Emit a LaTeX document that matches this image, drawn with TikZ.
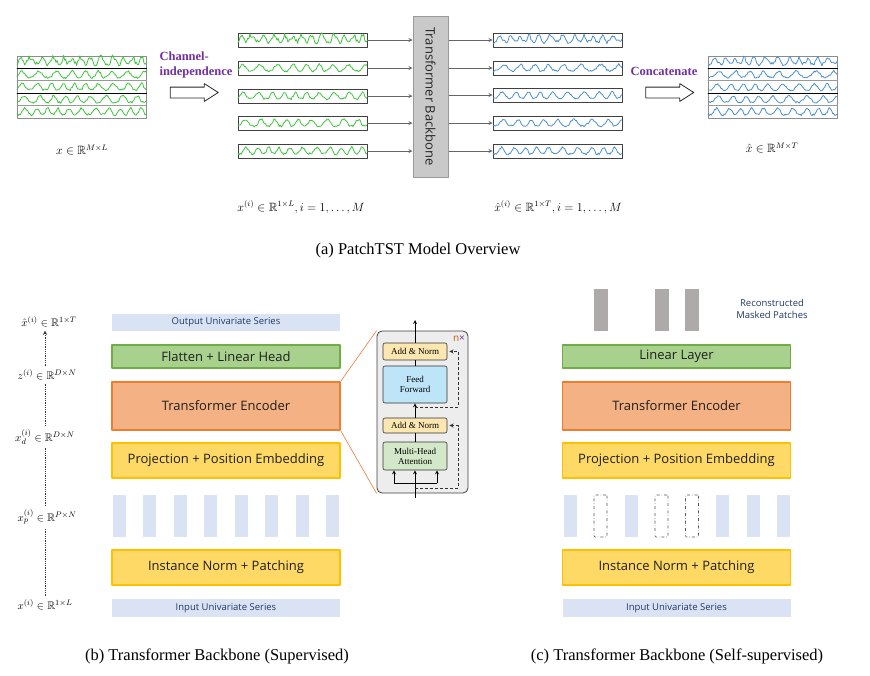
\documentclass[tikz,border=0pt]{standalone}
\usepackage{amssymb}
\usepackage{fontspec}
\setsansfont{Open Sans}
\newfontfamily\capfont{Liberation Serif}
\usetikzlibrary{positioning,shapes.arrows,calc}
\definecolor{patchblue}{HTML}{DAE3F3}
\definecolor{headgreen}{HTML}{A9D18E}
\definecolor{headgreenline}{HTML}{70AD47}
\definecolor{encorange}{HTML}{F4B183}
\definecolor{encorangeline}{HTML}{ED7D31}
\definecolor{embyellow}{HTML}{FFD966}
\definecolor{embyellowline}{HTML}{FFC000}
\definecolor{maskgray}{HTML}{AEAAAA}
\definecolor{navytext}{HTML}{1F3864}
\definecolor{chpurple}{HTML}{7030A0}
\definecolor{nxorange}{HTML}{C55A11}
\definecolor{wavegreen}{HTML}{3CC43C}
\definecolor{waveblue}{HTML}{4A8FCB}
\definecolor{bbgray}{HTML}{C9C9C9}
\definecolor{addnorm}{HTML}{FDE7B0}
\definecolor{ffblue}{HTML}{BEE4F7}
\definecolor{mhagreen}{HTML}{D3E8C8}
\definecolor{tlgray}{HTML}{EDEDED}

% waveform: x1, x2, y, colour, frequency, noise, seed
\newcommand{\wave}[7]{%
  \pgfmathsetseed{#7}%
  \draw[#4,line width=0.8pt] plot[domain=#1:#2,samples=120]
    (\x,{#3+4-6.5*((abs(sin(#5*(\x-#1)+35*sin(0.31*#5*(\x-#1)+#7*40))))^3)-#6*rnd});}

\tikzset{
  serbox/.style={draw=black!75,line width=0.9pt,minimum width=129pt,minimum height=14pt,inner sep=0pt},
  matbox/.style={draw=black!45,line width=1pt,minimum width=129pt,minimum height=62pt,inner sep=0pt},
  conn/.style={draw=black!60,line width=0.8pt,-stealth},
  hollow/.style={single arrow,draw=black!85,fill=white,line width=0.8pt,minimum height=48pt,
    minimum width=0pt,inner sep=5pt,single arrow head extend=3.5pt,single arrow tip angle=65},
  chtext/.style={text=chpurple,font=\capfont\bfseries\fontsize{12.5}{14.5}\selectfont},
  mlab/.style={font=\fontsize{12}{14}\selectfont},
  alab/.style={font=\fontsize{11}{13}\selectfont},
  caption/.style={font=\capfont\fontsize{16.5}{19}\selectfont},
  blk/.style={minimum width=228pt,inner sep=0pt,line width=1.3pt,text=black!88,font=\sffamily\fontsize{13}{15}\selectfont},
  lbox/.style={fill=patchblue,minimum width=228pt,minimum height=17pt,inner sep=0pt,text=navytext,font=\sffamily\fontsize{9.5}{11}\selectfont},
  patch/.style={fill=patchblue,minimum width=13pt,minimum height=42pt,inner sep=0pt},
  masked/.style={draw=black!65,dash dot,line width=0.7pt,rounded corners=1pt,minimum width=13pt,minimum height=42pt,inner sep=0pt},
  recon/.style={fill=maskgray,minimum width=14pt,minimum height=42pt,inner sep=0pt},
  tlbox/.style={draw=black!75,fill=tlgray,rounded corners=5pt,line width=0.8pt,minimum width=91pt,minimum height=162pt},
  sub/.style={draw=black!80,line width=0.6pt,rounded corners=2pt,minimum width=64pt,inner sep=0pt,align=center,
    font=\capfont\fontsize{9}{10}\selectfont},
  res/.style={draw=black!80,line width=0.9pt,dash pattern=on 3pt off 2pt,-stealth,shorten >=2pt},
  axis/.style={draw=black!80,line width=0.9pt,dash pattern=on 0.8pt off 1pt}
}

\begin{document}
\begin{tikzpicture}[x=1pt,y=-1pt,line join=round,>=stealth,font=\sffamily]
\useasboundingbox (0,0) rectangle (870,675);

%% (a) PatchTST overview
\node[matbox] (mx) at (81.5,87) {};
\foreach \f/\n [count=\i] in {18/5,12/2,14/2,13/2,15/2.2}
  \wave{17}{146}{49.8+12.4*\i}{wavegreen}{\f}{\n}{\i}
\foreach \y/\c in {68.4/black,80.8/black!40,93.2/black,105.6/black!40}
  \draw[\c,line width=0.9pt] (mx.west |- 0,\y) -- (mx.east |- 0,\y);
\node[mlab] (mxl) at (82,150) {$x\in\mathbb{R}^{M\times L}$};

\node[chtext,align=left,anchor=west] (chl) at (156,65) {Channel-\\independence};
\node[hollow] (cia) at (190,92.5) {};

\node[draw=black!40,fill=bbgray,line width=1pt,minimum width=35pt,minimum height=161pt,inner sep=0pt] (bb) at (430.5,96.5) {};
\node[rotate=-90,font=\sffamily\fontsize{13}{15}\selectfont,text=black!85] (bbl) at (bb) {Transformer Backbone};

\foreach \y/\f/\n [count=\i] in {40/18/5,68/12/2,96/14/2,123/13/2,151/15/2.2}{
  \node[serbox] (in\i) at (302.5,\y) {};
  \wave{238}{367}{\y}{wavegreen}{\f}{\n}{\i}
  \draw[conn] (in\i.east) -- (in\i.east -| bb.west);
}
\foreach \y/\f/\n [count=\i] in {40/17/4,68/11/2,95/13/1.5,123/12/2,151/14/2}{
  \node[serbox] (out\i) at (557.5,\y) {};
  \wave{493}{622}{\y}{waveblue}{\f}{\n}{\i+5}
  \draw[conn] (out\i.west -| bb.east) -- (out\i.west);
}
\node[mlab] (inl) at (301,207) {$x^{(i)}\in\mathbb{R}^{1\times L}, i=1,\ldots,M$};
\node[mlab] (outl) at (558,207) {$\hat{x}^{(i)}\in\mathbb{R}^{1\times T}, i=1,\ldots,M$};

\node[chtext] (ccl) at (664,71) {Concatenate};
\node[hollow] (cca) at (665.5,92.5) {};

\node[matbox] (mxo) at (772.5,87) {};
\foreach \f/\n [count=\i] in {17/4,11/2,13/1.5,12/2,14/2}
  \wave{708}{837}{49.8+12.4*\i}{waveblue}{\f}{\n}{\i+5}
\foreach \y/\c in {68.4/black,80.8/black!40,93.2/black,105.6/black!40}
  \draw[\c,line width=0.9pt] (mxo.west |- 0,\y) -- (mxo.east |- 0,\y);
\node[mlab] (mxol) at (772,148) {$\hat{x}\in\mathbb{R}^{M\times T}$};

\node[caption] (capa) at (418,251) {(a) PatchTST Model Overview};

%% (b) supervised backbone
\node[lbox] (outs) at (226,322.5) {Output Univariate Series};
\node[blk,fill=headgreen,draw=headgreenline,minimum height=23pt] (head) at (226,356.5) {Flatten + Linear Head};
\node[blk,fill=encorange,draw=encorangeline,minimum height=48pt] (enc) at (226,406) {Transformer Encoder};
\node[blk,fill=embyellow,draw=embyellowline,minimum height=35pt] (proj) at (226,460.5) {Projection + Position Embedding};
\foreach \k in {0,...,7}
  \node[patch] (pb\k) at (119.5+30.43*\k,516) {};
\node[blk,fill=embyellow,draw=embyellowline,minimum height=35pt] (norm) at (226,567.5) {Instance Norm + Patching};
\node[lbox,minimum height=18pt] (ins) at (226,608) {Input Univariate Series};

% encoder layer detail
\node[tlbox] (tl) at (422.5,412) {};
\node[sub,fill=addnorm,minimum height=17pt] (an2) at (415,351.5) {Add \& Norm};
\node[sub,fill=ffblue,minimum height=37pt] (ff) at (415,384.5) {Feed\\Forward};
\node[sub,fill=addnorm,minimum height=15pt] (an1) at (415,425.5) {Add \& Norm};
\node[sub,fill=mhagreen,minimum height=28pt] (mha) at (415,456) {Multi-Head\\Attention};
\node[font=\sffamily\fontsize{10}{12}\selectfont] (nx) at (459,339) {\textcolor{nxorange}{n}\textcolor{chpurple}{×}};
\coordinate (tin) at (415,498);
\coordinate (tout) at (415,320);
\coordinate (br) at (415,483);
\coordinate (brl) at (394,483);
\coordinate (brr) at (437,483);
\draw[line width=0.8pt] (tin) -- (br) (brl) -- (brr) (mha) -- (an1) (ff) -- (an2);
\draw[line width=0.8pt,-stealth] (br) -- (mha.south);
\draw[line width=0.8pt,-stealth] (brl) -- (brl |- mha.south);
\draw[line width=0.8pt,-stealth] (brr) -- (brr |- mha.south);
\draw[line width=0.8pt,-stealth] (an1) -- (ff);
\draw[line width=0.8pt,-stealth] (an2) -- (tout);
\coordinate (r1) at (415,488);
\coordinate (r2) at (415,407);
\draw[res] (r1) -| ($(an1.east)+(11,0)$) -- (an1.east);
\draw[res] (r2) -| ($(an2.east)+(11,0)$) -- (an2.east);
\draw[encorangeline,line width=0.6pt] (enc.north east) -- (tl.north west);
\draw[encorangeline,line width=0.6pt] (enc.south east) -- (tl.south west);

% shapes along the backbone
\coordinate (ax) at (45,0);
\node[alab] (l5) at (49,322) {$\hat{x}^{(i)}\in\mathbb{R}^{1\times T}$};
\node[alab] (l4) at (47,375) {$z^{(i)}\in\mathbb{R}^{D\times N}$};
\node[alab] (l3) at (45,437) {$x_d^{(i)}\in\mathbb{R}^{D\times N}$};
\node[alab] (l2) at (47,517) {$x_p^{(i)}\in\mathbb{R}^{P\times N}$};
\node[alab] (l1) at (45,605) {$x^{(i)}\in\mathbb{R}^{1\times L}$};
\draw[axis] (ax |- l1.north) -- (ax |- l2.south);
\draw[axis] (ax |- l2.north) -- (ax |- l3.south);
\draw[axis] (ax |- l3.north) -- (ax |- l4.south);
\draw[axis,-stealth] (ax |- l4.north) -- (ax |- l5.south);

\node[caption] (capb) at (217,656) {(b) Transformer Backbone (Supervised)};

%% (c) self-supervised backbone
\foreach \k in {1,3,4}
  \node[recon] (rc\k) at (570+30.5*\k,310) {};
\node[align=center,text=navytext,font=\sffamily\fontsize{9.5}{12}\selectfont] (rcl) at (772,309) {Reconstructed\\Masked Patches};
\node[blk,fill=headgreen,draw=headgreenline,minimum height=23pt] (lin) at (676.5,356.5) {Linear Layer};
\node[blk,fill=encorange,draw=encorangeline,minimum height=48pt] (enc2) at (676.5,406) {Transformer Encoder};
\node[blk,fill=embyellow,draw=embyellowline,minimum height=35pt] (proj2) at (676.5,460.5) {Projection + Position Embedding};
\foreach \k/\s in {0/patch,1/masked,2/patch,3/masked,4/masked,5/patch,6/patch,7/patch}
  \node[\s] (pc\k) at (570+30.5*\k,516) {};
\node[blk,fill=embyellow,draw=embyellowline,minimum height=35pt] (norm2) at (676.5,567.5) {Instance Norm + Patching};
\node[lbox,minimum height=18pt] (ins2) at (676.5,608) {Input Univariate Series};

\node[caption] (capc) at (677,656) {(c) Transformer Backbone (Self-supervised)};
\end{tikzpicture}
\end{document}
